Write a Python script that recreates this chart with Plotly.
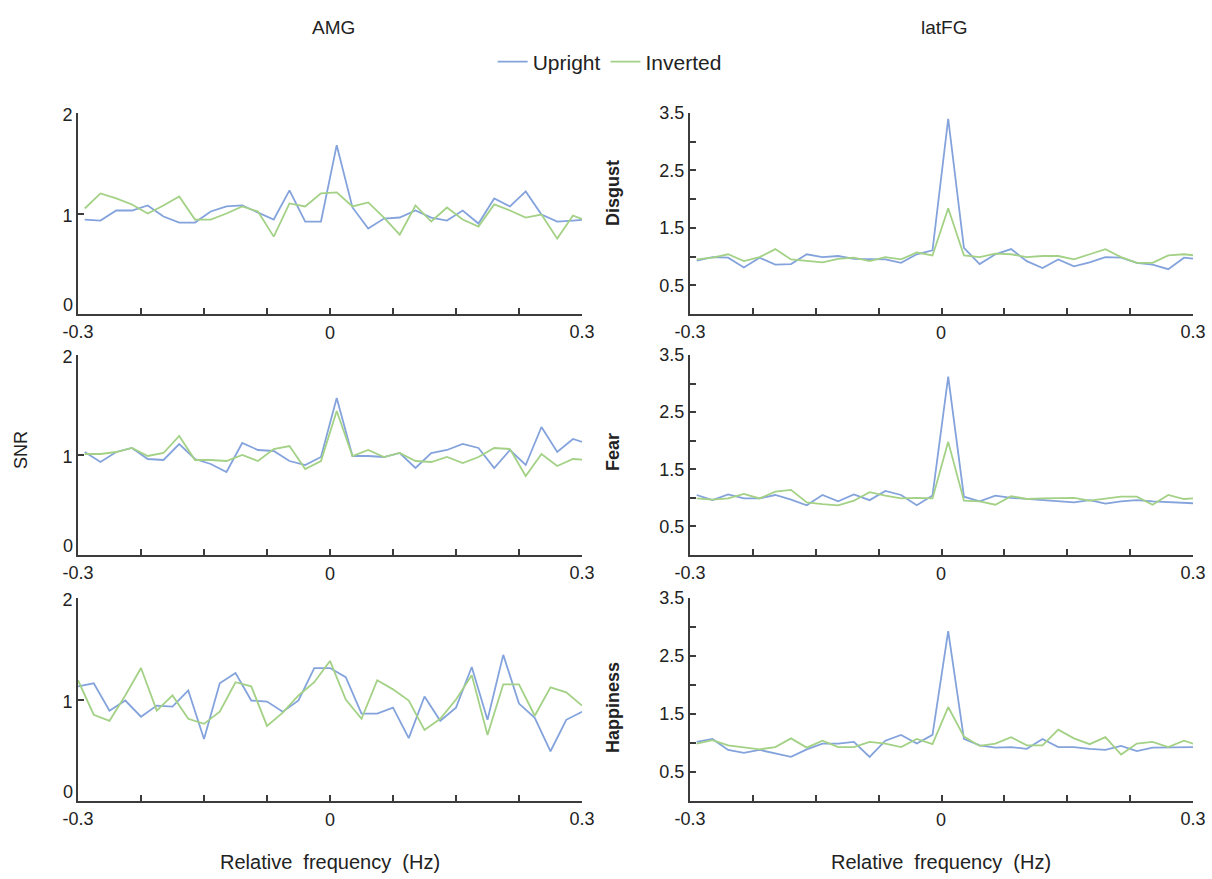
import plotly.graph_objects as go

# ---------------- data ----------------
freq_bins = [-0.3, -0.28125, -0.2625, -0.24375, -0.225, -0.20625, -0.1875, -0.16875,
             -0.15, -0.13125, -0.1125, -0.09375, -0.075, -0.05625, -0.0375, -0.01875,
             0.0, 0.01875, 0.0375, 0.05625, 0.075, 0.09375, 0.1125, 0.13125, 0.15,
             0.16875, 0.1875, 0.20625, 0.225, 0.24375, 0.2625, 0.28125, 0.3]
freq_bins_shifted = [-0.292, -0.27325, -0.2545, -0.23575, -0.217, -0.19825, -0.1795, -0.16075,
                     -0.142, -0.12325, -0.1045, -0.08575, -0.067, -0.04825, -0.0295, -0.01075,
                     0.008, 0.02675, 0.0455, 0.06425, 0.083, 0.10175, 0.1205, 0.13925, 0.158,
                     0.17675, 0.1955, 0.21425, 0.233, 0.25175, 0.2705, 0.28925, 0.308]

amg_disgust_upright = [0.94, 0.93, 1.03, 1.03, 1.08, 0.97, 0.91, 0.91, 1.02, 1.07, 1.08, 1.01, 0.94,
                       1.23, 0.92, 0.92, 1.68, 1.06, 0.85, 0.95, 0.96, 1.03, 0.96, 0.93, 1.03, 0.90,
                       1.15, 1.07, 1.22, 0.99, 0.92, 0.93, 0.94]
amg_disgust_inverted = [1.05, 1.20, 1.15, 1.09, 1.00, 1.08, 1.17, 0.94, 0.94, 1.00, 1.07, 1.02, 0.77,
                        1.10, 1.07, 1.20, 1.21, 1.07, 1.11, 0.96, 0.79, 1.08, 0.92, 1.06, 0.94, 0.87,
                        1.09, 1.03, 0.96, 0.99, 0.75, 0.98, 0.92]
amg_fear_upright = [1.03, 0.93, 1.03, 1.07, 0.96, 0.95, 1.11, 0.96, 0.91, 0.83, 1.12, 1.05, 1.04,
                    0.94, 0.90, 0.98, 1.57, 0.99, 0.99, 0.98, 1.02, 0.87, 1.02, 1.05, 1.11, 1.07,
                    0.87, 1.05, 0.90, 1.28, 1.03, 1.16, 1.11]
amg_fear_inverted = [1.01, 1.01, 1.03, 1.07, 0.99, 1.02, 1.19, 0.95, 0.95, 0.94, 1.00, 0.94, 1.06,
                     1.09, 0.86, 0.94, 1.44, 0.99, 1.05, 0.98, 1.02, 0.94, 0.93, 0.98, 0.92, 0.98,
                     1.07, 1.06, 0.79, 1.01, 0.89, 0.96, 0.95]
amg_happy_upright = [1.13, 1.16, 0.89, 0.99, 0.83, 0.94, 0.93, 1.09, 0.61, 1.16, 1.26, 0.99, 0.98,
                     0.88, 0.99, 1.31, 1.31, 1.22, 0.86, 0.86, 0.92, 0.62, 1.03, 0.79, 0.92, 1.32,
                     0.80, 1.44, 0.96, 0.82, 0.49, 0.80, 0.88]
amg_happy_inverted = [1.19, 0.85, 0.79, 1.04, 1.31, 0.89, 1.04, 0.81, 0.76, 0.88, 1.17, 1.13, 0.74,
                      0.87, 1.04, 1.17, 1.38, 1.00, 0.81, 1.19, 1.10, 0.99, 0.70, 0.81, 1.00, 1.24,
                      0.65, 1.15, 1.15, 0.84, 1.12, 1.07, 0.94]

fg_disgust_upright = [0.93, 0.99, 0.98, 0.81, 0.98, 0.86, 0.87, 1.04, 0.99, 1.01, 0.96, 0.95, 0.95,
                      0.89, 1.04, 1.11, 3.40, 1.15, 0.87, 1.04, 1.13, 0.92, 0.80, 0.95, 0.83, 0.90,
                      0.99, 0.98, 0.89, 0.86, 0.78, 0.98, 0.95]
fg_disgust_inverted = [0.95, 0.98, 1.04, 0.92, 0.99, 1.13, 0.95, 0.92, 0.90, 0.96, 0.98, 0.92, 0.99,
                       0.95, 1.07, 1.02, 1.84, 1.02, 0.99, 1.05, 1.04, 0.99, 1.01, 1.01, 0.95, 1.04,
                       1.13, 0.99, 0.89, 0.89, 1.02, 1.04, 1.01]
fg_fear_upright = [1.05, 0.96, 1.06, 0.99, 0.99, 1.05, 0.97, 0.87, 1.05, 0.94, 1.06, 0.96, 1.12,
                   1.05, 0.87, 1.04, 3.12, 1.02, 0.94, 1.04, 1.00, 0.98, 0.96, 0.93, 0.92, 0.96,
                   0.90, 0.94, 0.96, 0.94, 0.93, 0.92, 0.90]
fg_fear_inverted = [0.99, 0.97, 0.99, 1.07, 0.99, 1.11, 1.14, 0.92, 0.89, 0.87, 0.95, 1.10, 1.04,
                    0.99, 1.00, 0.99, 1.98, 0.95, 0.94, 0.88, 1.03, 0.98, 0.99, 1.00, 1.00, 0.95,
                    0.99, 1.02, 1.02, 0.88, 1.05, 0.98, 1.00]
fg_happy_upright = [1.02, 1.07, 0.88, 0.83, 0.88, 0.82, 0.76, 0.89, 0.99, 0.99, 1.02, 0.76, 1.04,
                    1.14, 0.99, 1.14, 2.93, 1.07, 0.96, 0.92, 0.93, 0.90, 1.07, 0.93, 0.93, 0.90,
                    0.88, 0.95, 0.86, 0.92, 0.92, 0.92, 0.93]
fg_happy_inverted = [0.99, 1.05, 0.96, 0.93, 0.89, 0.93, 1.08, 0.92, 1.04, 0.93, 0.93, 1.02, 0.99,
                     0.93, 1.07, 0.98, 1.62, 1.11, 0.95, 0.99, 1.10, 0.96, 0.96, 1.23, 1.08, 0.98,
                     1.10, 0.80, 0.99, 1.02, 0.93, 1.04, 0.95]

regions = ["AMG", "latFG"]
emotions = ["Disgust", "Fear", "Happiness"]
series_names = ["Upright", "Inverted"]
x_tick_vals = [-0.3, -0.225, -0.15, -0.075, 0.0, 0.075, 0.15, 0.225, 0.3]
x_tick_text = ["-0.3", "", "", "", "", "", "", "", "0.3"]
amg_y_ticks = [0, 1, 2]
amg_y_text = ["", "1", "2"]   # the "0" is placed separately, a little above the axis
fg_y_ticks = [0.5, 1.0, 1.5, 2.0, 2.5, 3.0, 3.5]
fg_y_text = ["0.5", "", "1.5", "", "2.5", "", "3.5"]

panels = [
    # (col, row, x, upright, inverted)
    (0, 0, freq_bins_shifted, amg_disgust_upright, amg_disgust_inverted),
    (0, 1, freq_bins_shifted, amg_fear_upright, amg_fear_inverted),
    (0, 2, freq_bins, amg_happy_upright, amg_happy_inverted),
    (1, 0, freq_bins_shifted, fg_disgust_upright, fg_disgust_inverted),
    (1, 1, freq_bins_shifted, fg_fear_upright, fg_fear_inverted),
    (1, 2, freq_bins_shifted, fg_happy_upright, fg_happy_inverted),
]

# ---------------- style ----------------
W, H = 1212, 879
BLUE = "#84a3dc"
GREEN = "#a3d185"
AXIS = "#3c3c3c"
TXT = "#222222"
FONT = "Liberation Sans Narrow, Arial Narrow, Liberation Sans, Arial, sans-serif"

col_px = [(78, 582), (690, 1193)]
row_px = [(113, 314), (355, 555), (598, 801)]

fig = go.Figure()
layout = dict(
    width=W, height=H,
    margin=dict(l=0, r=0, t=0, b=0, autoexpand=False),
    paper_bgcolor="white", plot_bgcolor="white",
    font=dict(family=FONT, size=18, color=TXT),
    showlegend=True,
    legend=dict(orientation="h", x=0.503, xanchor="center", y=1 - 62 / H, yanchor="middle",
                font=dict(size=21, family=FONT, color=TXT), itemwidth=30,
                bgcolor="rgba(0,0,0,0)"),
)

annotations = []
for k, (c, r, xs, up, inv) in enumerate(panels):
    idx = k + 1
    xname = "xaxis" if idx == 1 else f"xaxis{idx}"
    yname = "yaxis" if idx == 1 else f"yaxis{idx}"
    xref = "x" if idx == 1 else f"x{idx}"
    yref = "y" if idx == 1 else f"y{idx}"
    x0, x1 = col_px[c]
    t, b = row_px[r]
    layout[xname] = dict(
        domain=[x0 / W, x1 / W], anchor=yref, range=[-0.3, 0.3], automargin=False,
        showgrid=False, zeroline=False, showline=True, linecolor=AXIS, linewidth=2,
        ticks="inside", ticklen=6, tickwidth=2, tickcolor=AXIS,
        tickmode="array", tickvals=x_tick_vals, ticktext=x_tick_text,
        ticklabelstandoff=0,
        tickfont=dict(size=18, family=FONT, color=TXT), fixedrange=True,
    )
    if c == 0:
        yt, ytt, yr, shift = amg_y_ticks, amg_y_text, [0, 2], 2
    else:
        yt, ytt, yr, shift = fg_y_ticks, fg_y_text, [0, 3.5], 0
    layout[yname] = dict(
        domain=[1 - b / H, 1 - t / H], anchor=xref, range=yr, automargin=False,
        showgrid=False, zeroline=False, showline=True, linecolor=AXIS, linewidth=2,
        ticks="inside", ticklen=6, tickwidth=2, tickcolor=AXIS,
        tickmode="array", tickvals=yt, ticktext=ytt, ticklabelshift=shift,
        tickfont=dict(size=18, family=FONT, color=TXT), fixedrange=True,
    )
    for name, ys, col in ((series_names[0], up, BLUE), (series_names[1], inv, GREEN)):
        fig.add_trace(go.Scatter(
            x=xs, y=ys, mode="lines", name=name, xaxis=xref, yaxis=yref,
            line=dict(color=col, width=1.8), showlegend=(k == 0),
            hoverinfo="skip",
        ))
    # "0" label on the x axis (sits slightly lower than the end labels)
    annotations.append(dict(x=0, xref=xref, y=0, yref=f"{yref} domain", yanchor="top",
                            yshift=-7, text="0", showarrow=False,
                            font=dict(size=18, family=FONT, color=TXT)))
    if c == 0:
        # y-axis "0" label, raised slightly above the x axis line
        annotations.append(dict(x=0, xref=f"{xref} domain", y=0, yref=yref,
                                xanchor="right", yanchor="bottom", xshift=-3, yshift=-3,
                                text="0", showarrow=False,
                                font=dict(size=18, family=FONT, color=TXT)))

# column titles
for c, name in enumerate(regions):
    x0, x1 = col_px[c]
    annotations.append(dict(x=((x0 + x1) / 2 + 3) / W, xref="paper", y=1 - 27 / H, yref="paper",
                            text=name, showarrow=False, xanchor="center", yanchor="middle",
                            font=dict(size=19, family=FONT, color=TXT)))
    annotations.append(dict(x=((x0 + x1) / 2) / W, xref="paper", y=1 - 862 / H, yref="paper",
                            text="Relative  frequency  (Hz)", showarrow=False,
                            xanchor="center", yanchor="middle",
                            font=dict(size=20, family=FONT, color=TXT)))

# row titles
row_label_y = [193, 452, 708]
for r, name in enumerate(emotions):
    annotations.append(dict(x=613 / W, xref="paper", y=1 - row_label_y[r] / H, yref="paper",
                            text=f"<b>{name}</b>", showarrow=False, textangle=-90,
                            xanchor="center", yanchor="middle",
                            font=dict(size=18, family=FONT, color=TXT)))

annotations.append(dict(x=21 / W, xref="paper", y=1 - 450 / H, yref="paper", text="SNR",
                        showarrow=False, textangle=-90, xanchor="center", yanchor="middle",
                        font=dict(size=18, family=FONT, color=TXT)))

layout["annotations"] = annotations
fig.update_layout(**layout)
fig.write_html("out.html", config={"displayModeBar": False},
               post_script="document.body.style.margin='0';document.body.style.overflow='hidden';")
